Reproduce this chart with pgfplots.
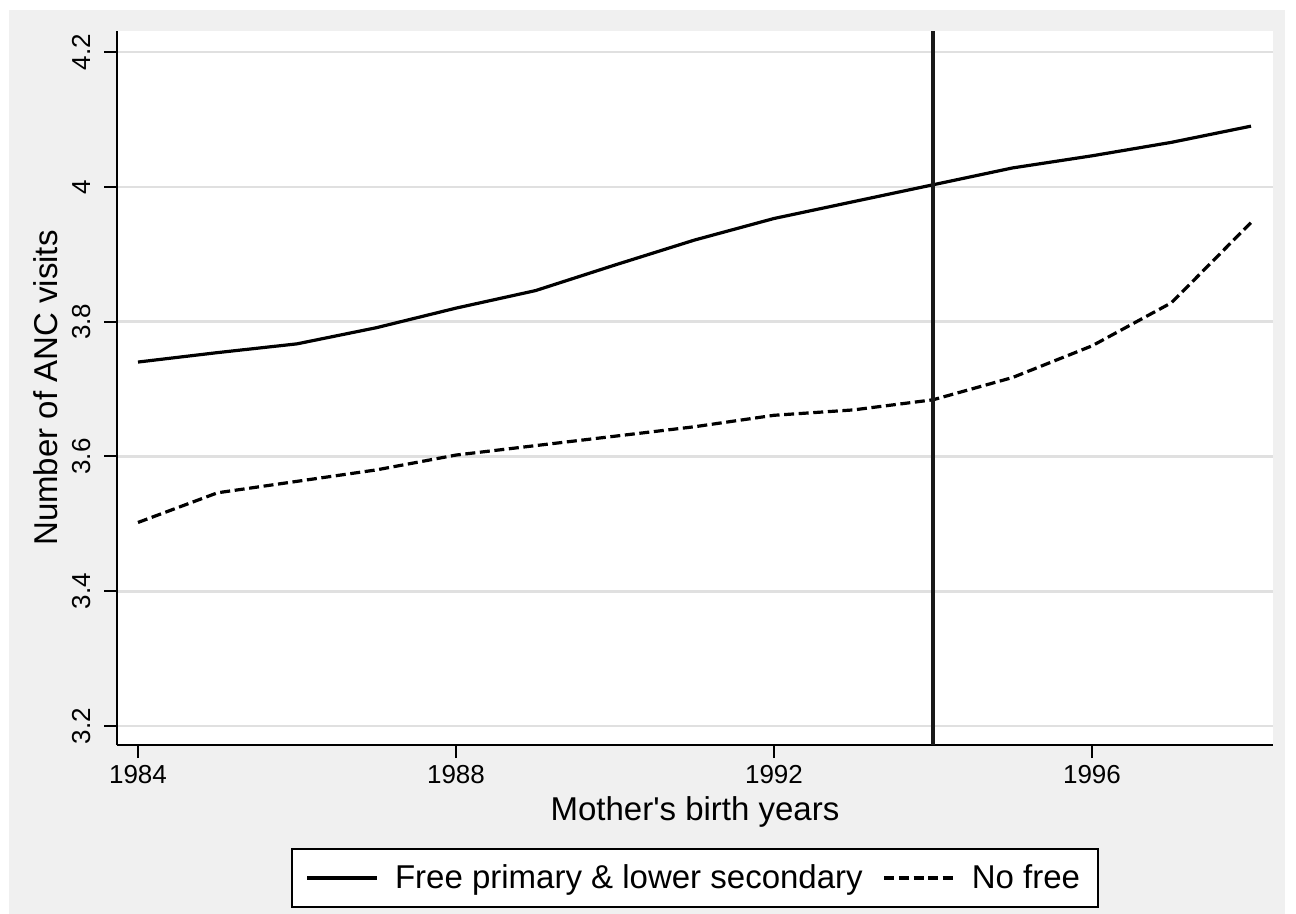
\documentclass[border=0pt]{standalone}
\usepackage{fontspec}
\setmainfont{Liberation Sans}
\usepackage{pgfplots}
\usepackage{pgfplotstable}
\pgfplotsset{compat=1.18}
\definecolor{bggray}{RGB}{240,240,240}
\definecolor{gridgray}{RGB}{224,224,224}

\pgfplotstableread{
year val
1984 3.740
1985 3.754
1986 3.767
1987 3.791
1988 3.820
1989 3.846
1990 3.884
1991 3.921
1992 3.953
1993 3.978
1994 4.003
1995 4.028
1996 4.046
1997 4.066
1998 4.090
}\freeT

\pgfplotstableread{
year val
1984 3.502
1985 3.546
1986 3.563
1987 3.580
1988 3.602
1989 3.616
1990 3.630
1991 3.644
1992 3.661
1993 3.669
1994 3.684
1995 3.717
1996 3.764
1997 3.828
1998 3.947
}\nofreeT

\begin{document}
\begin{tikzpicture}
\fill[white] (0pt,0pt) rectangle (648pt,-457pt);
\fill[bggray] (4.5pt,-5pt) rectangle (642.5pt,-457pt);
\begin{axis}[
  scale only axis, width=578pt, height=357pt,
  at={(58.5pt,-372.5pt)}, anchor=south west,
  xmin=1983.736, xmax=1998.277, ymin=3.1718, ymax=4.2312,
  axis x line*=bottom, axis y line*=left,
  axis line style={line width=1pt, -},
  xtick={1984,1988,1992,1996}, xticklabels={1984,1988,1992,1996},
  ytick={3.2,3.4,3.6,3.8,4,4.2}, yticklabels={3.2,3.4,3.6,3.8,4,4.2},
  tick align=outside, major tick length=6.5pt,
  tick style={line width=1pt, black},
  ymajorgrids, grid style={gridgray, line width=1.3pt},
  axis background/.style={fill=white},
  xticklabel style={font=\fontsize{13}{15}\selectfont},
  yticklabel style={font=\fontsize{13}{15}\selectfont, rotate=90, anchor=base, inner sep=0pt},
  yticklabel shift=7pt,
  label style={font=\fontsize{16.5}{19}\selectfont},
  xlabel={Mother\textquotesingle s birth years},
  ylabel={Number of ANC visits},
  xlabel style={at={(axis description cs:0.5,-0.10504)}, anchor=base},
  ylabel style={at={(axis description cs:-0.05104,0.5)}, anchor=base},
  legend columns=2,
  legend style={at={(axis description cs:0.5,-0.18627)}, anchor=center,
    draw=black, line width=1.1pt, fill=white,
    font=\fontsize{16.5}{19}\selectfont,
    inner xsep=7pt, inner ysep=5.75pt,
    /tikz/every even column/.append style={column sep=8pt},
    /tikz/every odd column/.append style={column sep=6pt}},
  legend image code/.code={\draw[#1] (0pt,0pt) -- (35pt,0pt);},
]
\addplot[black, line width=1.6pt, line join=round] table[x=year,y=val] {\freeT};
\addlegendentry{Free primary \& lower secondary}
\addplot[black, line width=1.6pt, line join=round, dash pattern=on 5pt off 2.3pt] table[x=year,y=val] {\nofreeT};
\addlegendentry{No free}
\addplot[forget plot, black!90, line width=1.7pt] coordinates {(1994,3.1718) (1994,4.2312)};
\end{axis}
\end{tikzpicture}
\end{document}
